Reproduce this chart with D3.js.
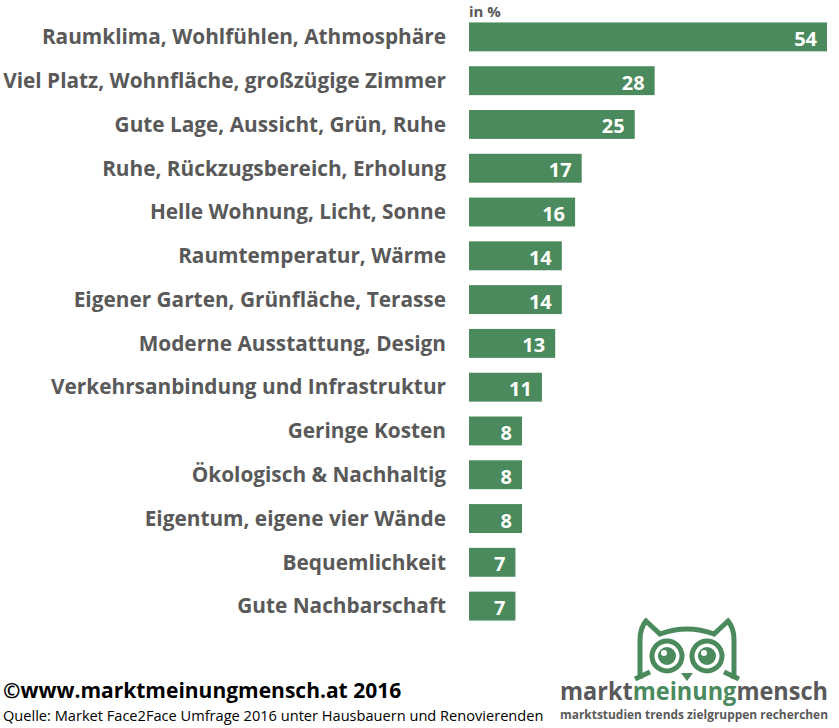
<!DOCTYPE html>
<html><head><meta charset="utf-8">
<script src="https://cdn.jsdelivr.net/npm/d3@7"></script>
<style>body{margin:0;background:#fff}svg{display:block;font-family:"Open Sans",sans-serif}</style>
</head><body>
<script>
// data
var categories = ["Raumklima, Wohlfühlen, Athmosphäre","Viel Platz, Wohnfläche, großzügige Zimmer","Gute Lage, Aussicht, Grün, Ruhe","Ruhe, Rückzugsbereich, Erholung","Helle Wohnung, Licht, Sonne","Raumtemperatur, Wärme","Eigener Garten, Grünfläche, Terasse","Moderne Ausstattung, Design","Verkehrsanbindung und Infrastruktur","Geringe Kosten","Ökologisch & Nachhaltig","Eigentum, eigene vier Wände","Bequemlichkeit","Gute Nachbarschaft"];
var values = [54,28,25,17,16,14,14,13,11,8,8,8,7,7];

var green = "#4a8a5c", grey = "#595959";
var svg = d3.select("body").append("svg").attr("width", 839).attr("height", 728);

var x = d3.scaleLinear().domain([0, 54]).range([469, 827]);
var y = d3.scaleBand().domain(categories).range([15, 628]).paddingInner(0.34).paddingOuter(0.17);

svg.selectAll("rect.bar").data(values).enter().append("rect")
	.attr("x", x(0)).attr("y", function(d, i){ return y(categories[i]); })
	.attr("width", function(d){ return x(d) - x(0); }).attr("height", y.bandwidth())
	.attr("fill", green);

svg.selectAll("text.cat").data(categories).enter().append("text")
	.attr("x", 446).attr("y", function(d){ return y(d) + y.bandwidth()/2; })
	.attr("dy", "0.35em").attr("text-anchor", "end")
	.style("font-size", "20.8px").style("font-weight", "bold").attr("fill", grey)
	.text(function(d){ return d; });

svg.selectAll("text.val").data(values).enter().append("text")
	.attr("x", function(d){ return x(d) - 10; })
	.attr("y", function(d, i){ return y(categories[i]) + y.bandwidth()/2 + 2; })
	.attr("dy", "0.35em").attr("text-anchor", "end")
	.style("font-size", "20px").style("font-weight", "bold").attr("fill", "#fff")
	.text(function(d){ return d; });

svg.append("text").attr("x", 469).attr("y", 17).style("font-size", "15px").style("font-weight", "bold")
	.attr("fill", grey).text("in %");

// footer
svg.append("text").attr("x", 3).attr("y", 698).style("font-size", "21px").style("font-weight", "bold")
	.attr("fill", "#000").text("©www.marktmeinungmensch.at 2016");
svg.append("text").attr("x", 3).attr("y", 721).style("font-size", "14.6px")
	.attr("fill", "#000").text("Quelle: Market Face2Face Umfrage 2016 unter Hausbauern und Renovierenden");

// logo owl
var owl = svg.append("g").attr("fill", "none").attr("stroke", green).attr("stroke-width", 5);
owl.append("path").attr("d", "M640,679 L640,640 Q640,628 646,621 L660,634 Q687,624 714,634 L728,621 Q734,628 734,640 L734,679");
[667, 707].forEach(function(cx){
	owl.append("circle").attr("cx", cx).attr("cy", 656).attr("r", 15);
	svg.append("circle").attr("cx", cx).attr("cy", 656).attr("r", 9).attr("fill", green);
	svg.append("circle").attr("cx", cx - 3).attr("cy", 653).attr("r", 3).attr("fill", "#fff");
});
svg.append("path").attr("d", "M681,673 L693,673 L687,681 Z").attr("fill", green);
owl.append("path").attr("d", "M635,679 L650,672 M739,679 L724,672");

var logo = svg.append("text").attr("x", 828).attr("y", 700).attr("text-anchor", "end")
	.style("font-size", "25px").style("font-weight", "bold").attr("textLength", 268).attr("lengthAdjust", "spacingAndGlyphs");
logo.append("tspan").attr("fill", grey).text("markt");
logo.append("tspan").attr("fill", green).text("meinung");
logo.append("tspan").attr("fill", grey).text("mensch");
svg.append("text").attr("x", 560).attr("y", 719).style("font-size", "12.5px").style("font-weight", "bold")
	.attr("fill", grey).attr("textLength", 268).attr("lengthAdjust", "spacingAndGlyphs")
	.text("marktstudien trends zielgruppen recherchen");
</script>
</body></html>
